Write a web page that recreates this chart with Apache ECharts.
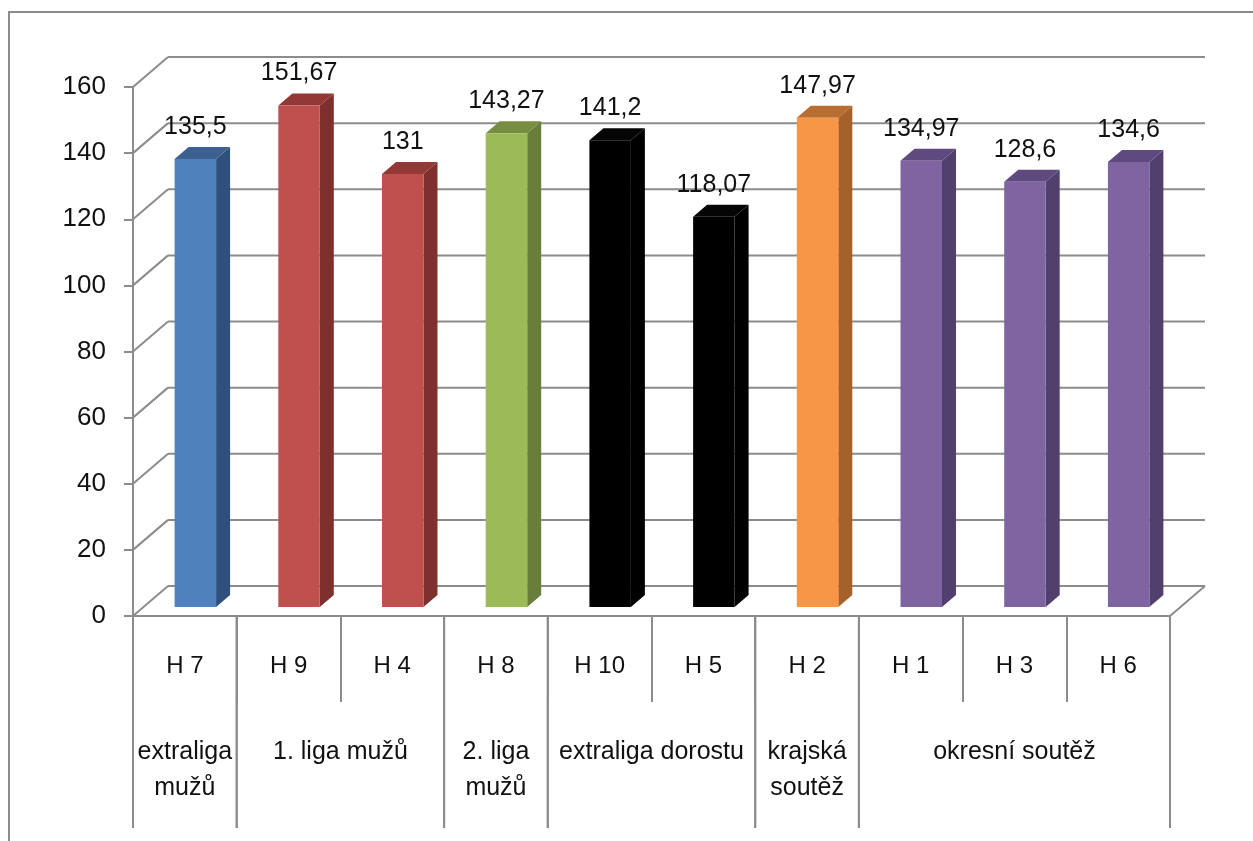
<!DOCTYPE html>
<html>
<head>
<meta charset="utf-8">
<script src="https://cdn.jsdelivr.net/npm/echarts@6/dist/echarts.min.js"></script>
<style>
html,body{margin:0;padding:0;background:#fff;}
#chart{width:1253px;height:841px;}
</style>
</head>
<body>
<div id="chart"></div>
<script>
// ---- data ----
const hLabels = ['H 7', 'H 9', 'H 4', 'H 8', 'H 10', 'H 5', 'H 2', 'H 1', 'H 3', 'H 6'];
const values = [135.5, 151.67, 131, 143.27, 141.2, 118.07, 147.97, 134.97, 128.6, 134.6];
const groupNames = ['extraliga mužů', '1. liga mužů', '2. liga mužů', 'extraliga dorostu', 'krajská soutěž', 'okresní soutěž'];
const groupStart = [0, 1, 3, 4, 6, 7];
const groupEnd = [0, 2, 3, 5, 6, 9];
const yTicks = [0, 20, 40, 60, 80, 100, 120, 140, 160];

// ---- styles ----
const groupFront = ['#4F81BD', '#C0504D', '#9BBB59', '#000000', '#F79646', '#8064A2'];
const groupSide = ['#30507C', '#7E302E', '#687E3A', '#000000', '#A6612B', '#51406D'];
const groupTop = ['#3C6090', '#943836', '#778E42', '#050505', '#B96D31', '#5F4A7F'];
const FONT = "'Liberation Sans', Arial, sans-serif";
const LABEL_FONT = '25px ' + FONT;
const LINE = '#8c8c8c';
const DX = 35, DY = -30;            // back wall offset
const FDX = 10.5, FDY = -9;         // bar front plane offset
const BDX = 14, BDY = -12;          // bar depth

function groupOf(i) {
  for (let g = 0; g < groupStart.length; g++) if (i >= groupStart[g] && i <= groupEnd[g]) return g;
  return 0;
}
function fmt(v) { return String(v).replace('.', ','); }

const measureCtx = document.createElement('canvas').getContext('2d');
function wrap(text, maxW) {
  measureCtx.font = LABEL_FONT;
  const words = text.split(' ');
  const lines = [];
  let cur = '';
  words.forEach(w => {
    const t = cur ? cur + ' ' + w : w;
    if (cur && measureCtx.measureText(t).width > maxW) { lines.push(cur); cur = w; }
    else cur = t;
  });
  if (cur) lines.push(cur);
  return lines.join('\n');
}

const chart = echarts.init(document.getElementById('chart'), null, {renderer: 'canvas'});

const option = {
  animation: false,
  backgroundColor: '#fff',
  grid: {left: 133, right: 83, top: 87, bottom: 225, containLabel: false},
  graphic: [{
    type: 'rect', z: 0, silent: true,
    shape: {x: 9, y: 12, width: 1400, height: 1000},
    style: {fill: 'none', stroke: LINE, lineWidth: 2}
  }],
  xAxis: {
    type: 'category',
    data: hLabels,
    axisLine: {show: true, lineStyle: {color: LINE, width: 2}},
    axisTick: {show: true, interval: 0, length: 86, lineStyle: {color: LINE, width: 2}},
    axisLabel: {interval: 0, margin: 50, verticalAlign: 'middle', fontSize: 24, color: '#111', fontFamily: FONT},
    splitLine: {show: false}
  },
  yAxis: {
    type: 'value', min: 0, max: 160, interval: 20,
    axisLine: {show: true, lineStyle: {color: LINE, width: 2}},
    axisTick: {show: true, length: 9, lineStyle: {color: LINE, width: 2}},
    axisLabel: {margin: 27, fontSize: 26, color: '#111', fontFamily: FONT},
    splitLine: {show: false}
  },
  series: [
    {
      type: 'custom', name: 'walls', z: 1, silent: true,
      data: yTicks.map(v => [0, v]),
      encode: {x: 0, y: 1},
      renderItem: function (params, api) {
        const v = api.value(1);
        const y = api.coord([0, v])[1];
        const x0 = params.coordSys.x;
        const x1 = x0 + params.coordSys.width;
        const st = {stroke: LINE, lineWidth: 2};
        const ch = [
          {type: 'line', shape: {x1: x0, y1: y, x2: x0 + DX, y2: y + DY}, style: st},
          {type: 'line', shape: {x1: x0 + DX, y1: y + DY, x2: x1 + DX, y2: y + DY}, style: st}
        ];
        if (v === 0) ch.push({type: 'line', shape: {x1: x1, y1: y, x2: x1 + DX, y2: y + DY}, style: st});
        return {type: 'group', children: ch};
      }
    },
    {
      type: 'custom', name: 'bars', z: 3,
      data: values.map((v, i) => [i, v]),
      encode: {x: 0, y: 1},
      renderItem: function (params, api) {
        const i = api.value(0), v = api.value(1);
        const c = api.coord([i, v]);
        const b = api.coord([i, 0]);
        const bw = api.size([1, 0])[0];
        const w = bw * 0.4;
        const g = groupOf(i);
        const left = c[0] + FDX - w / 2, right = left + w;
        const top = c[1] + FDY, bottom = b[1] + FDY;
        return {
          type: 'group',
          children: [
            {type: 'polygon', shape: {points: [[right, top], [right + BDX, top + BDY], [right + BDX, bottom + BDY], [right, bottom]]},
              style: {fill: groupSide[g]}},
            {type: 'polygon', shape: {points: [[left, top], [left + BDX, top + BDY], [right + BDX, top + BDY], [right, top]]},
              style: {fill: groupTop[g]}},
            {type: 'rect', shape: {x: left, y: top, width: w, height: bottom - top}, style: {fill: groupFront[g]}},
            {type: 'text', style: {text: fmt(v), x: left + w / 2, y: top - 32, align: 'center', verticalAlign: 'middle',
              font: LABEL_FONT, fill: '#111'}}
          ]
        };
      }
    },
    {
      type: 'custom', name: 'groups', z: 2, silent: true,
      data: groupNames.map((n, k) => [groupStart[k], groupEnd[k]]),
      encode: {x: 0},
      renderItem: function (params, api) {
        const k = params.dataIndex;
        const s = api.value(0), e = api.value(1);
        const bw = api.size([1, 0])[0];
        const y0 = params.coordSys.y + params.coordSys.height;
        const l = api.coord([s, 0])[0] - bw / 2;
        const r = api.coord([e, 0])[0] + bw / 2;
        const st = {stroke: LINE, lineWidth: 2};
        return {
          type: 'group',
          children: [
            {type: 'line', shape: {x1: l, y1: y0, x2: l, y2: y0 + 212}, style: st},
            {type: 'line', shape: {x1: r, y1: y0, x2: r, y2: y0 + 212}, style: st},
            {type: 'text', style: {text: wrap(groupNames[k], r - l - 4), x: (l + r) / 2, y: y0 + 118,
              align: 'center', verticalAlign: 'top', lineHeight: 36, font: LABEL_FONT, fill: '#111'}}
          ]
        };
      }
    }
  ]
};
chart.setOption(option);
</script>
</body>
</html>
